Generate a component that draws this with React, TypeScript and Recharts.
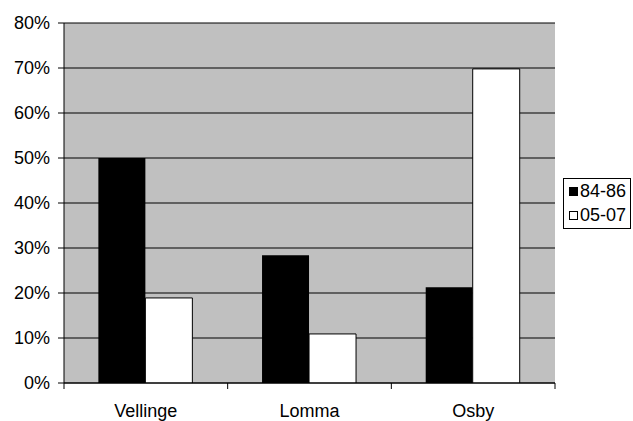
import React from "react";
import {
  BarChart,
  Bar,
  XAxis,
  YAxis,
  CartesianGrid,
} from "recharts";

const places = ["Vellinge", "Lomma", "Osby"];
const period1 = [50, 28.4, 21.3];
const period2 = [18.9, 10.9, 69.8];
const yTicks = [0, 10, 20, 30, 40, 50, 60, 70, 80];

const data = places.map((name, i) => ({
  name,
  p1: period1[i],
  p2: period2[i],
}));

const W = 633;
const H = 421;
const M = { top: 23, right: 78, bottom: 0, left: 0 };
const Y_AXIS_W = 64;
const PLOT_W = W - M.left - M.right - Y_AXIS_W;
const FONT = "'Liberation Sans', Arial, sans-serif";

const CategoryTick = (props: any) => {
  const { x, y, payload, index } = props;
  const bw = PLOT_W / places.length;
  return (
    <g>
      <line x1={x - bw / 2} y1={y} x2={x - bw / 2} y2={y + 6} stroke="#000" />
      {index === places.length - 1 && (
        <line x1={x + bw / 2} y1={y} x2={x + bw / 2} y2={y + 6} stroke="#000" />
      )}
      <text
        x={x}
        y={y + 21}
        dy="0.71em"
        textAnchor="middle"
        fontSize={18}
        fontFamily={FONT}
        fill="#000"
      >
        {payload.value}
      </text>
    </g>
  );
};

const LegendBox = () => (
  <div
    style={{
      position: "absolute",
      left: 563,
      top: 178,
      width: 68,
      height: 51,
      border: "1px solid #000",
      background: "#fff",
      fontFamily: FONT,
      fontSize: 18,
      lineHeight: "24px",
      whiteSpace: "nowrap",
      boxSizing: "border-box",
    }}
  >
    {[
      { label: "84-86", fill: "#000" },
      { label: "05-07", fill: "#fff" },
    ].map((e) => (
      <div key={e.label} style={{ display: "flex", alignItems: "center", paddingLeft: 5 }}>
        <span
          style={{
            display: "inline-block",
            width: 9,
            height: 9,
            background: e.fill,
            border: "1px solid #000",
            boxSizing: "border-box",
            marginRight: 2,
          }}
        />
        <span>{e.label}</span>
      </div>
    ))}
  </div>
);

export default function App() {
  return (
    <div style={{ position: "absolute", left: 0, top: 0, width: W, height: H, background: "#fff", overflow: "hidden" }}>
      <BarChart
        width={W}
        height={H}
        data={data}
        margin={M}
        barCategoryGap="21%"
        barGap={0}
      >
        <CartesianGrid vertical={false} stroke="#000" fill="#C0C0C0" fillOpacity={1} />
        <XAxis
          dataKey="name"
          axisLine={{ stroke: "#000" }}
          tickLine={false}
          tickSize={0}
          tickMargin={0}
          height={38}
          tick={<CategoryTick />}
          interval={0}
        />
        <YAxis
          width={Y_AXIS_W}
          domain={[0, 80]}
          ticks={yTicks}
          tickFormatter={(v: number) => `${v}%`}
          axisLine={{ stroke: "#000" }}
          tickLine={{ stroke: "#000" }}
          tickSize={6}
          tickMargin={8}
          tick={{ fill: "#000", fontSize: 18, fontFamily: FONT }}
          allowDataOverflow
        />
        <YAxis
          yAxisId="border"
          orientation="right"
          width={0}
          domain={[0, 80]}
          tick={false}
          tickLine={false}
          axisLine={{ stroke: "#808080" }}
        />
        <Bar dataKey="p1" name="84-86" fill="#000" isAnimationActive={false} />
        <Bar dataKey="p2" name="05-07" fill="#fff" stroke="#000" strokeWidth={1} isAnimationActive={false} />
      </BarChart>
      <LegendBox />
    </div>
  );
}
